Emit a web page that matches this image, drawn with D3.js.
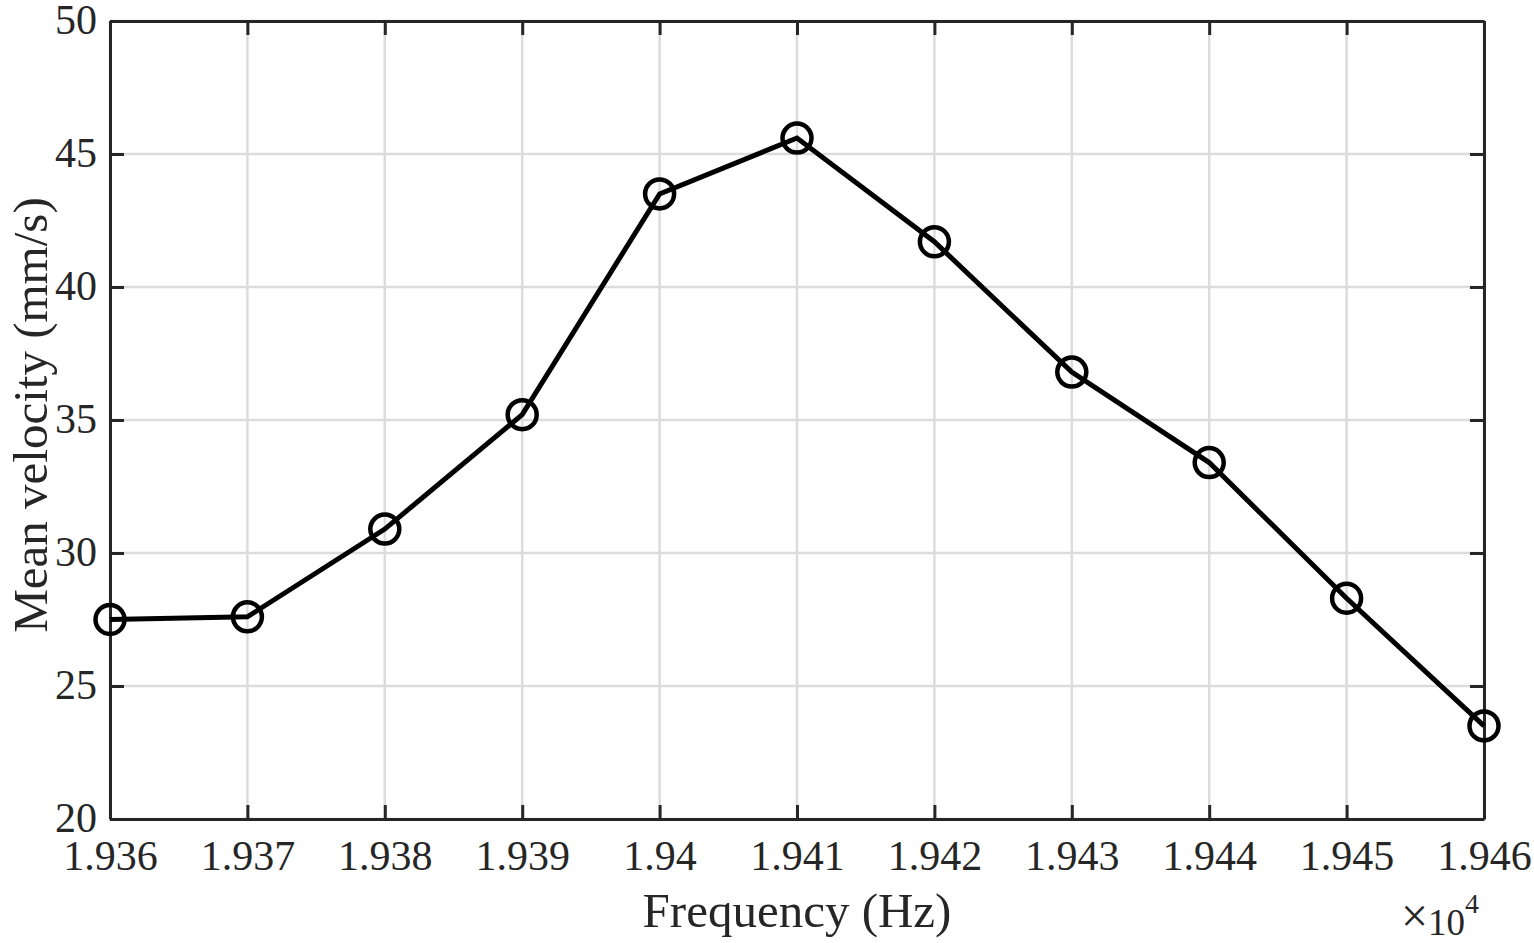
<!DOCTYPE html>
<html><head><meta charset="utf-8">
<script src="https://cdn.jsdelivr.net/npm/d3@7"></script>
<style>body{margin:0;background:#fff}svg{display:block}text{font-family:"Liberation Serif","Times New Roman",serif;fill:#262626}</style>
</head><body>
<svg id="c" width="1534" height="943"></svg>
<script>
const freqs = [1.936,1.937,1.938,1.939,1.940,1.941,1.942,1.943,1.944,1.945,1.946];
const velocity = [27.5,27.6,30.9,35.2,43.5,45.6,41.7,36.8,33.4,28.3,23.5];
const xTicks = [1.936,1.937,1.938,1.939,1.940,1.941,1.942,1.943,1.944,1.945,1.946];
const xTickLabels = ["1.936","1.937","1.938","1.939","1.94","1.941","1.942","1.943","1.944","1.945","1.946"];
const yTicks = [20,25,30,35,40,45,50];
const xLabel = "Frequency (Hz)";
const yLabel = "Mean velocity (mm/s)";

const L=110,R=1484,T=21,B=819;
const svg=d3.select("#c");
const x=d3.scaleLinear().domain([1.936,1.946]).range([L,R]);
const y=d3.scaleLinear().domain([20,50]).range([B,T]);
const ink="#262626", tickLen=14;

// grid
svg.append("g").selectAll("line").data(xTicks).join("line")
  .attr("x1",d=>x(d)).attr("x2",d=>x(d)).attr("y1",T).attr("y2",B)
  .attr("stroke","#dcdcdc").attr("stroke-width",2.5);
svg.append("g").selectAll("line").data(yTicks).join("line")
  .attr("y1",d=>y(d)).attr("y2",d=>y(d)).attr("x1",L).attr("x2",R)
  .attr("stroke","#dcdcdc").attr("stroke-width",2.5);

// axes with inward ticks
const fmtX=(d,i)=>xTickLabels[i];
const gxB=svg.append("g").attr("transform",`translate(0,${B})`)
  .call(d3.axisBottom(x).tickValues(xTicks).tickFormat(fmtX).tickSizeInner(-tickLen).tickSizeOuter(0).tickPadding(21));
const gxT=svg.append("g").attr("transform",`translate(0,${T})`)
  .call(d3.axisTop(x).tickValues(xTicks).tickFormat("").tickSizeInner(-tickLen).tickSizeOuter(0));
const gyL=svg.append("g").attr("transform",`translate(${L},0)`)
  .call(d3.axisLeft(y).tickValues(yTicks).tickFormat(d3.format("d")).tickSizeInner(-tickLen).tickSizeOuter(0).tickPadding(13));
const gyR=svg.append("g").attr("transform",`translate(${R},0)`)
  .call(d3.axisRight(y).tickValues(yTicks).tickFormat("").tickSizeInner(-tickLen).tickSizeOuter(0));
[gxB,gxT,gyL,gyR].forEach(g=>{
  g.attr("font-family",null).attr("font-size",null);
  g.selectAll("path.domain").attr("stroke",ink).attr("stroke-width",3);
  g.selectAll(".tick line").attr("stroke",ink).attr("stroke-width",3);
  g.selectAll(".tick text").style("font-size","42px").attr("fill",ink);
});
gxB.selectAll(".tick text").attr("dy","0.71em");
gyL.selectAll(".tick text").attr("dy","0.30em");

// line
svg.append("path").datum(freqs.map((f,i)=>[f,velocity[i]]))
  .attr("d",d3.line().x(d=>x(d[0])).y(d=>y(d[1])))
  .attr("fill","none").attr("stroke","#000").attr("stroke-width",5).attr("stroke-linejoin","miter");
svg.append("g").selectAll("circle").data(freqs.map((f,i)=>[f,velocity[i]])).join("circle")
  .attr("cx",d=>x(d[0])).attr("cy",d=>y(d[1])).attr("r",14.5)
  .attr("fill","none").attr("stroke","#000").attr("stroke-width",4.5);

// labels
svg.append("text").attr("x",(L+R)/2).attr("y",927).attr("text-anchor","middle")
  .style("font-size","49px").text(xLabel);
svg.append("text").attr("transform",`translate(47,${(T+B)/2 - 5}) rotate(-90)`).attr("text-anchor","middle")
  .style("font-size","49px").text(yLabel);
const ex=svg.append("text").attr("x",1479).attr("y",935).attr("text-anchor","end").style("font-size","37px");
ex.append("tspan").style("font-size","48px").attr("dy",-3).text("×");
ex.append("tspan").attr("dy",3).text("10");
ex.append("tspan").attr("dy",-22).style("font-size","28px").text("4");
</script>
</body></html>
